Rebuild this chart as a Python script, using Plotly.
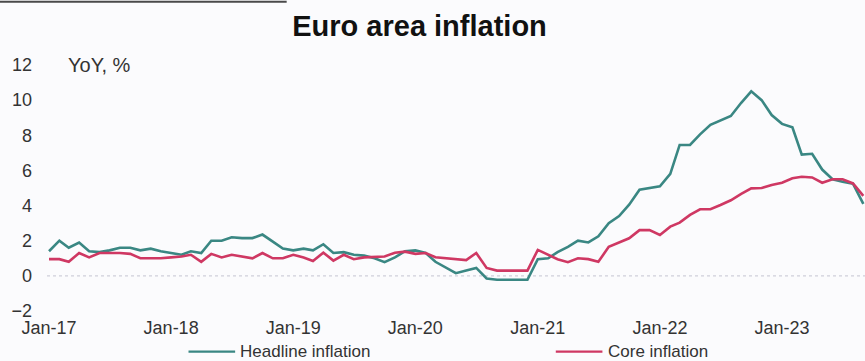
import pandas as pd
import plotly.graph_objects as go

# Monthly observations, Jan 2017 - Sep 2023 (YoY, %)
months = pd.date_range("2017-01-01", "2023-09-01", freq="MS")

headline = [
    # 2017
    1.4, 2.0, 1.6, 1.9, 1.4, 1.35, 1.45, 1.6, 1.6, 1.45, 1.55, 1.4,
    # 2018
    1.3, 1.2, 1.4, 1.3, 2.0, 2.0, 2.2, 2.15, 2.15, 2.35, 1.95, 1.55,
    # 2019
    1.45, 1.55, 1.45, 1.8, 1.3, 1.35, 1.2, 1.15, 1.0, 0.78, 1.05, 1.4,
    # 2020
    1.45, 1.3, 0.8, 0.45, 0.15, 0.3, 0.45, -0.15, -0.22, -0.22, -0.22, -0.22,
    # 2021
    0.95, 1.0, 1.35, 1.65, 2.0, 1.9, 2.25, 3.0, 3.4, 4.05, 4.9, 5.0,
    # 2022
    5.1, 5.8, 7.45, 7.45, 8.05, 8.6, 8.85, 9.1, 9.85, 10.5, 10.0, 9.15,
    # 2023
    8.65, 8.45, 6.9, 6.95, 6.05, 5.5, 5.35, 5.25, 4.1,
]

core = [
    # 2017
    0.95, 0.95, 0.8, 1.3, 1.05, 1.3, 1.3, 1.3, 1.25, 1.0, 1.0, 1.0,
    # 2018
    1.05, 1.1, 1.2, 0.8, 1.25, 1.05, 1.2, 1.1, 1.0, 1.3, 1.0, 1.0,
    # 2019
    1.2, 1.05, 0.85, 1.32, 0.87, 1.2, 0.95, 1.05, 1.07, 1.1, 1.32, 1.38,
    # 2020
    1.25, 1.3, 1.06, 1.0, 0.95, 0.9, 1.3, 0.45, 0.3, 0.3, 0.3, 0.3,
    # 2021
    1.48, 1.2, 0.95, 0.78, 1.0, 0.95, 0.8, 1.65, 1.9, 2.14, 2.6, 2.6,
    # 2022
    2.33, 2.8, 3.03, 3.47, 3.79, 3.79, 4.03, 4.3, 4.66, 4.98, 5.0, 5.17,
    # 2023
    5.3, 5.55, 5.64, 5.6, 5.3, 5.5, 5.5, 5.26, 4.55,
]

tick_dates = pd.date_range("2017-01-01", "2023-01-01", freq="YS")
tick_labels = ["Jan-17", "Jan-18", "Jan-19", "Jan-20", "Jan-21", "Jan-22", "Jan-23"]
y_ticks = [-2, 0, 2, 4, 6, 8, 10, 12]

series_names = ["Headline inflation", "Core inflation"]
series_colors = ["#3a8783", "#cf3863"]

FONT = "Liberation Sans, Arial, sans-serif"

fig = go.Figure()
for name, vals, col in zip(series_names, [headline, core], series_colors):
    fig.add_trace(go.Scatter(
        x=months, y=vals, mode="lines", name=name,
        line=dict(color=col, width=2.6), showlegend=False,
    ))

# dotted zero line
fig.add_shape(type="line", xref="paper", yref="y", x0=0, x1=1, y0=0, y1=0,
              line=dict(color="#cfd0da", width=1.2, dash="dot"), layer="below")

# dark rule at the top-left of the page
fig.add_shape(type="line", xref="paper", yref="paper", x0=-0.06, x1=0.293,
              y0=1.257, y1=1.257, line=dict(color="#4a4a4a", width=2))

# legend drawn below the axis
legend_items = [(0.173, series_names[0], series_colors[0]),
                (0.622, series_names[1], series_colors[1])]
for x0, name, col in legend_items:
    fig.add_shape(type="line", xref="paper", yref="paper",
                  x0=x0, x1=x0 + 0.057, y0=-0.165, y1=-0.165,
                  line=dict(color=col, width=2.2))
    fig.add_annotation(xref="paper", yref="paper", x=x0 + 0.061, y=-0.165,
                       text=name, showarrow=False, xanchor="left", yanchor="middle",
                       font=dict(family=FONT, size=17, color="#333333"))

fig.add_annotation(xref="paper", yref="y", x=0.023, y=12, text="YoY, %",
                   showarrow=False, xanchor="left", yanchor="middle",
                   font=dict(family=FONT, size=20, color="#333333"))

fig.update_layout(
    width=865, height=361,
    margin=dict(l=47, r=0, t=65, b=50),
    paper_bgcolor="#fbfbfd", plot_bgcolor="#fbfbfd",
    title=dict(text="<b>Euro area inflation</b>", x=0.485, xanchor="center",
               y=0.928, yanchor="middle", xref="container", yref="container",
               font=dict(family=FONT, size=29, color="#111111")),
    xaxis=dict(type="date", range=["2016-12-26", "2023-09-06"],
               tickvals=tick_dates, ticktext=tick_labels,
               showgrid=False, zeroline=False, showline=False, ticks="",
               ticklabelstandoff=4,
               tickfont=dict(family=FONT, size=18, color="#333333")),
    yaxis=dict(range=[-2, 12], tickvals=y_ticks,
               showgrid=False, zeroline=False, showline=False, ticks="",
               ticklabelstandoff=14,
               tickfont=dict(family=FONT, size=18, color="#333333")),
)

fig.write_html("out.html")
